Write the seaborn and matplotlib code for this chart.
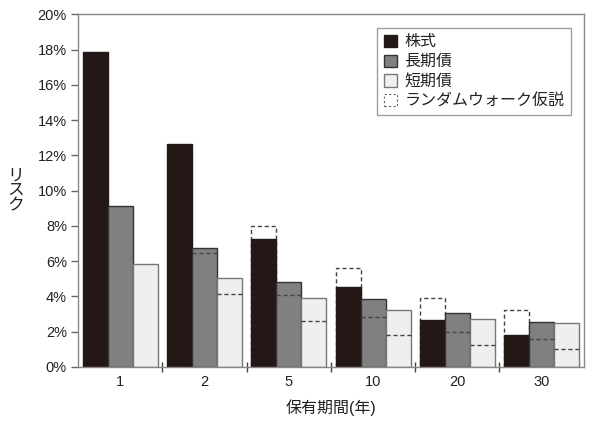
import matplotlib
matplotlib.use("Agg")
import matplotlib.pyplot as plt
from matplotlib.patches import Patch
from matplotlib.ticker import FuncFormatter, FixedLocator
import seaborn as sns
import pandas as pd

periods = ["1", "2", "5", "10", "20", "30"]
assets = ["株式", "長期債", "短期債"]
stocks = [17.85, 12.65, 7.24, 4.56, 2.66, 1.79]
long_bonds = [9.12, 6.74, 4.83, 3.86, 3.04, 2.56]
short_bonds = [5.87, 5.07, 3.91, 3.23, 2.72, 2.47]
rw_stocks = [17.85, 12.62, 7.98, 5.64, 3.93, 3.23]
rw_long = [9.12, 6.46, 4.08, 2.83, 1.99, 1.60]
rw_short = [5.87, 4.12, 2.62, 1.82, 1.27, 1.01]
rw_label = "ランダムウォーク仮説"
xlabel = "保有期間(年)"
ylabel = "リスク"

sns.set_theme(style="white")
plt.rcParams["font.family"] = ["Liberation Sans", "Noto Sans CJK JP", "DejaVu Sans"]

df = pd.DataFrame({
    "period": periods * 3,
    "asset": [assets[0]] * 6 + [assets[1]] * 6 + [assets[2]] * 6,
    "value": stocks + long_bonds + short_bonds,
})
df_rw = pd.DataFrame({
    "period": periods * 3,
    "asset": [assets[0]] * 6 + [assets[1]] * 6 + [assets[2]] * 6,
    "value": rw_stocks + rw_long + rw_short,
})

colors = ["#231815", "#808080", "#efefef"]
edges = ["#231815", "#333333", "#777777"]

fig = plt.figure(figsize=(6.0, 4.32), dpi=100)
ax = fig.add_axes([0.13, 0.1505, 0.843, 0.816])

sns.barplot(data=df, x="period", y="value", hue="asset", order=periods,
            hue_order=assets, palette=colors, width=0.89, gap=0,
            saturation=1, linewidth=1.0, ax=ax, legend=False, errorbar=None)
for cont, ec in zip(ax.containers, edges):
    for p in cont:
        p.set_edgecolor(ec)
main_patches = list(ax.patches)

sns.barplot(data=df_rw, x="period", y="value", hue="asset", order=periods,
            hue_order=assets, palette=["#444444"] * 3, width=0.89, gap=0,
            fill=False, linewidth=1.0, linestyle=(0, (3, 2)), ax=ax,
            legend=False, errorbar=None)
rw_patches = [p for p in ax.patches if p not in main_patches]

for rp in rw_patches:
    match = min(main_patches, key=lambda m: abs(m.get_x() - rp.get_x()))
    if rp.get_height() > match.get_height() + 0.05:
        rp.set_zorder(0.5)
    else:
        rp.set_visible(False)
        if rp.get_height() < match.get_height() - 0.05:
            ax.hlines(rp.get_height(), rp.get_x(), rp.get_x() + rp.get_width(),
                      colors="#444444", linestyles=(0, (3, 2)), linewidth=1.0,
                      zorder=3)

ax.set_xlim(-0.5, 5.5)
ax.set_ylim(0, 20)
ax.set_yticks(range(0, 21, 2))
ax.yaxis.set_major_formatter(FuncFormatter(lambda v, pos: f"{int(v)}%"))
ax.xaxis.set_minor_locator(FixedLocator([0.5, 1.5, 2.5, 3.5, 4.5]))
ax.tick_params(axis="y", which="major", left=True, direction="out", length=5,
               width=1, color="#666666", labelsize=10.5, labelcolor="#222222", pad=3)
ax.tick_params(axis="x", which="major", bottom=False, length=0, labelsize=10.5,
               labelcolor="#222222", pad=6)
ax.tick_params(axis="x", which="minor", bottom=True, direction="inout",
               length=7, width=1, color="#444444")

for s in ax.spines.values():
    s.set_visible(True)
    s.set_color("#888888")
    s.set_linewidth(1.0)

ax.set_xlabel(xlabel, fontsize=11.5, color="#222222", labelpad=7)
ax.set_ylabel("\n".join(ylabel), rotation=0, fontsize=12, color="#222222",
              va="center", labelpad=16, linespacing=1.0)

handles = [Patch(facecolor=c, edgecolor=e, linewidth=1.0) for c, e in zip(colors, edges)]
handles.append(Patch(facecolor="none", edgecolor="#666666", linewidth=0.8,
                     linestyle=(0, (2, 2))))
leg = ax.legend(handles, assets + [rw_label], loc="upper right",
                bbox_to_anchor=(0.984, 0.975), fontsize=11.5, frameon=True,
                fancybox=False, handlelength=0.8, handleheight=0.8,
                handletextpad=0.5, labelspacing=0.3, borderpad=0.4,
                borderaxespad=0.3)
leg.get_frame().set_edgecolor("#888888")
leg.get_frame().set_linewidth(1.0)
for t in leg.get_texts():
    t.set_color("#222222")

fig.savefig("out.png", dpi=100)
